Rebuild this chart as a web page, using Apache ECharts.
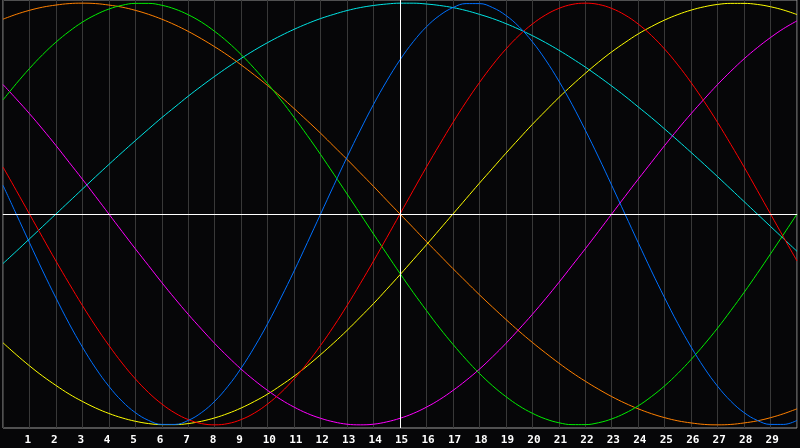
<!DOCTYPE html>
<html>
<head>
<meta charset="utf-8">
<script src="https://cdn.jsdelivr.net/npm/echarts@6/dist/echarts.min.js"></script>
<style>
html,body{margin:0;padding:0;background:#060608;}
#c{width:800px;height:448px;}
</style>
</head>
<body>
<div id="c"></div>
<script>
var days = [0,0.5,1,1.5,2,2.5,3,3.5,4,4.5,5,5.5,6,6.5,7,7.5,8,8.5,9,9.5,10,10.5,11,11.5,12,12.5,13,13.5,14,14.5,15,15.5,16,16.5,17,17.5,18,18.5,19,19.5,20,20.5,21,21.5,22,22.5,23,23.5,24,24.5,25,25.5,26,26.5,27,27.5,28,28.5,29,29.5,30];
var physical = [0.136,0,-0.136,-0.270,-0.398,-0.520,-0.631,-0.731,-0.817,-0.888,-0.942,-0.979,-0.998,-0.998,-0.979,-0.942,-0.888,-0.817,-0.731,-0.631,-0.520,-0.398,-0.270,-0.136,0,0.136,0.270,0.398,0.520,0.631,0.731,0.817,0.888,0.942,0.979,0.998,0.998,0.979,0.942,0.888,0.817,0.731,0.631,0.520,0.398,0.270,0.136,0,-0.136,-0.270,-0.398,-0.520,-0.631,-0.731,-0.817,-0.888,-0.942,-0.979,-0.998,-0.998,-0.979];
var emotional = [0.223,0.112,0,-0.112,-0.223,-0.330,-0.434,-0.532,-0.623,-0.707,-0.782,-0.847,-0.901,-0.944,-0.975,-0.994,-1.000,-0.994,-0.975,-0.944,-0.901,-0.847,-0.782,-0.707,-0.623,-0.532,-0.434,-0.330,-0.223,-0.112,0,0.112,0.223,0.330,0.434,0.532,0.623,0.707,0.782,0.847,0.901,0.944,0.975,0.994,1.000,0.994,0.975,0.944,0.901,0.847,0.782,0.707,0.623,0.532,0.434,0.330,0.223,0.112,0,-0.112,-0.223];
var intellectual = [0.541,0.618,0.690,0.756,0.815,0.866,0.910,0.945,0.972,0.990,0.999,0.999,0.990,0.972,0.945,0.910,0.866,0.815,0.756,0.690,0.618,0.541,0.458,0.372,0.282,0.189,0.095,0,-0.095,-0.189,-0.282,-0.372,-0.458,-0.541,-0.618,-0.690,-0.756,-0.815,-0.866,-0.910,-0.945,-0.972,-0.990,-0.999,-0.999,-0.990,-0.972,-0.945,-0.910,-0.866,-0.815,-0.756,-0.690,-0.618,-0.541,-0.458,-0.372,-0.282,-0.189,-0.095,0];
var intuitive = [0.614,0.546,0.476,0.402,0.325,0.245,0.165,0.083,0,-0.083,-0.165,-0.245,-0.325,-0.402,-0.476,-0.546,-0.614,-0.677,-0.736,-0.789,-0.837,-0.880,-0.916,-0.946,-0.969,-0.986,-0.997,-1,-0.997,-0.986,-0.969,-0.946,-0.916,-0.880,-0.837,-0.789,-0.736,-0.677,-0.614,-0.546,-0.476,-0.402,-0.325,-0.245,-0.165,-0.083,0,0.083,0.165,0.245,0.325,0.402,0.476,0.546,0.614,0.677,0.736,0.789,0.837,0.880,0.916];
var aesthetic = [-0.611,-0.667,-0.720,-0.769,-0.813,-0.854,-0.889,-0.920,-0.946,-0.967,-0.983,-0.994,-0.999,-0.999,-0.994,-0.983,-0.967,-0.946,-0.920,-0.889,-0.854,-0.813,-0.769,-0.720,-0.667,-0.611,-0.552,-0.489,-0.425,-0.357,-0.288,-0.217,-0.146,-0.073,0,0.073,0.146,0.217,0.288,0.357,0.425,0.489,0.552,0.611,0.667,0.720,0.769,0.813,0.854,0.889,0.920,0.946,0.967,0.983,0.994,0.999,0.999,0.994,0.983,0.967,0.946];
var awareness = [0.924,0.947,0.966,0.981,0.991,0.998,1,0.998,0.991,0.981,0.966,0.947,0.924,0.897,0.866,0.831,0.793,0.752,0.707,0.659,0.609,0.556,0.500,0.442,0.383,0.321,0.259,0.195,0.131,0.065,0,-0.065,-0.131,-0.195,-0.259,-0.321,-0.383,-0.442,-0.500,-0.556,-0.609,-0.659,-0.707,-0.752,-0.793,-0.831,-0.866,-0.897,-0.924,-0.947,-0.966,-0.981,-0.991,-0.998,-1,-0.998,-0.991,-0.981,-0.966,-0.947,-0.924];
var spiritual = [-0.235,-0.177,-0.118,-0.059,0,0.059,0.118,0.177,0.235,0.292,0.348,0.403,0.457,0.508,0.559,0.607,0.653,0.697,0.738,0.777,0.813,0.846,0.876,0.903,0.927,0.947,0.965,0.979,0.989,0.996,1.000,1.000,0.996,0.989,0.979,0.965,0.947,0.927,0.903,0.876,0.846,0.813,0.777,0.738,0.697,0.653,0.607,0.559,0.508,0.457,0.403,0.348,0.292,0.235,0.177,0.118,0.059,0,-0.059,-0.118,-0.177];
var tickLabels = ['','1','2','3','4','5','6','7','8','9','10','11','12','13','14','15','16','17','18','19','20','21','22','23','24','25','26','27','28','29',''];
var todayX = 15;

var seriesDefs = [
  {name:'Spiritual', data:spiritual, color:'#00e4e4'},
  {name:'Awareness', data:awareness, color:'#ff8000'},
  {name:'Aesthetic', data:aesthetic, color:'#ffff00'},
  {name:'Intuitive', data:intuitive, color:'#ff00ff'},
  {name:'Intellectual', data:intellectual, color:'#00ee00'},
  {name:'Emotional', data:emotional, color:'#ff0000'},
  {name:'Physical', data:physical, color:'#0070ff'}
];

function pairs(arr){ return days.map(function(d,i){ return [d, arr[i]]; }); }

var series = seriesDefs.map(function(s){
  return {
    name: s.name, type:'line', data: pairs(s.data), smooth: 0.4,
    showSymbol:false, symbol:'none', silent:true,
    lineStyle:{color:s.color, width:1}, itemStyle:{color:s.color}
  };
});
series.push({
  type:'line', data:[], silent:true,
  markLine:{
    silent:true, symbol:['none','none'], label:{show:false},
    lineStyle:{color:'#ffffff', width:1, type:'solid'},
    emphasis:{disabled:true},
    data:[{xAxis:todayX},{yAxis:0}]
  }
});

var chart = echarts.init(document.getElementById('c'), null, {renderer:'canvas'});
chart.setOption({
  backgroundColor:'#060608',
  animation:false,
  grid:{left:0, right:0, top:0, bottom:20, show:true, borderColor:'#9a9a9a', borderWidth:1, backgroundColor:'transparent'},
  xAxis:{
    type:'value', min:0, max:30, interval:1,
    axisLine:{show:true, lineStyle:{color:'#9a9a9a'}},
    axisTick:{show:false},
    splitLine:{show:true, lineStyle:{color:'#383838', width:1}},
    axisLabel:{
      show:true, color:'#ffffff', fontWeight:'bold', fontSize:11,
      fontFamily:'DejaVu Sans Mono', margin:7, align:'left', padding:[0,0,0,-5],
      formatter:function(v){ return tickLabels[Math.round(v)] || ''; }
    }
  },
  yAxis:{
    type:'value', min:-1.015, max:1.015,
    axisLine:{show:false}, axisTick:{show:false}, axisLabel:{show:false}, splitLine:{show:false}
  },
  series: series
});
</script>
</body>
</html>
